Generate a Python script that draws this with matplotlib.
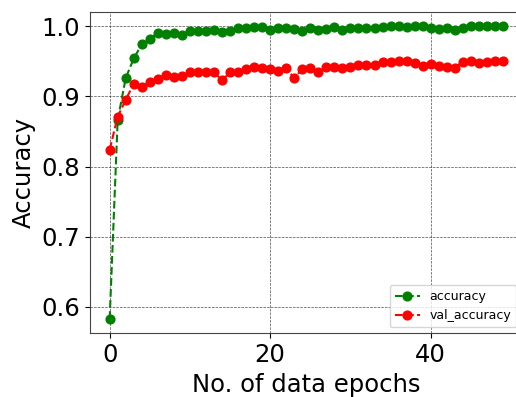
import matplotlib
matplotlib.use("Agg")
import matplotlib.pyplot as plt
import numpy as np

epochs = list(range(50))
accuracy = [0.583, 0.866, 0.926, 0.954, 0.974, 0.982, 0.990, 0.989, 0.990, 0.988,
            0.993, 0.993, 0.993, 0.994, 0.992, 0.993, 0.997, 0.997, 0.999, 0.999,
            0.994, 0.998, 0.998, 0.996, 0.993, 0.997, 0.994, 0.996, 0.999, 0.995,
            0.997, 0.997, 0.997, 0.998, 0.999, 1.000, 1.000, 0.999, 1.000, 1.000,
            0.998, 0.996, 0.997, 0.994, 0.998, 1.000, 1.000, 1.000, 1.000, 1.000]
val_accuracy = [0.824, 0.871, 0.895, 0.918, 0.914, 0.920, 0.925, 0.931, 0.928, 0.929,
                0.934, 0.935, 0.934, 0.934, 0.923, 0.934, 0.934, 0.939, 0.942, 0.941,
                0.939, 0.936, 0.940, 0.926, 0.939, 0.941, 0.934, 0.942, 0.942, 0.941,
                0.942, 0.944, 0.944, 0.944, 0.949, 0.949, 0.951, 0.951, 0.948, 0.943,
                0.946, 0.943, 0.942, 0.941, 0.949, 0.951, 0.948, 0.949, 0.951, 0.951]

fig = plt.figure(figsize=(5.16, 3.97), dpi=100)
ax = fig.add_axes([0.1744, 0.16, 0.8384, 0.811])
ax.plot(epochs, accuracy, 'go--', markersize=6.3, linewidth=1.5, label='accuracy')
ax.plot(epochs, val_accuracy, 'ro--', markersize=6.3, linewidth=1.5, label='val_accuracy')
ax.grid(True, color='black', linestyle='--', linewidth=0.5, alpha=0.7)
ax.set_xlabel('No. of data epochs', fontsize=17.5)
ax.set_ylabel('Accuracy', fontsize=17.5)
ax.tick_params(labelsize=17.5)
ax.set_xticks([0, 20, 40])
ax.set_yticks([0.6, 0.7, 0.8, 0.9, 1.0])
for s in ax.spines.values():
    s.set_color('#444444')
ax.legend(loc='lower right', fontsize=9)
fig.savefig('out.png', dpi=100)
